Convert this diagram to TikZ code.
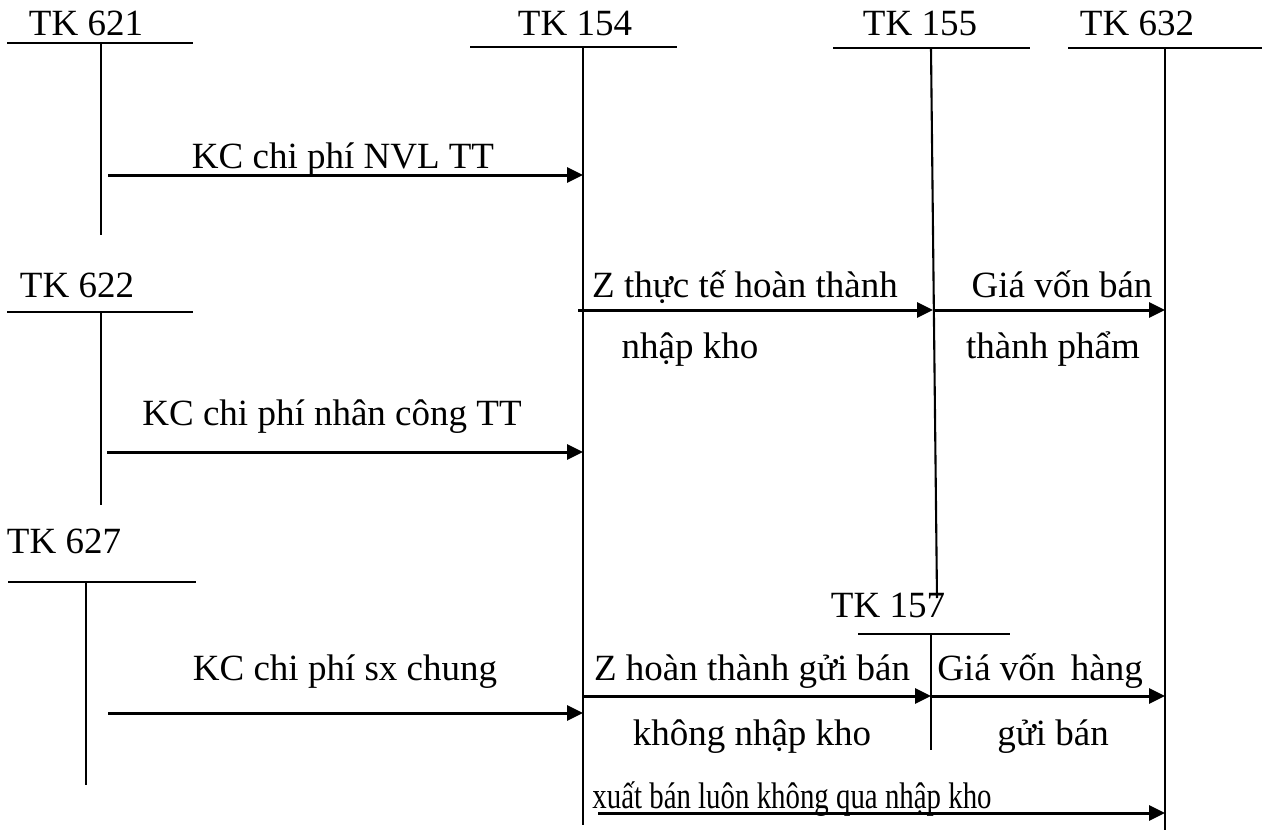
\documentclass[tikz,border=0pt]{standalone}
\usepackage{fontspec}
\setmainfont{Liberation Serif}
\usetikzlibrary{arrows.meta}
\begin{document}
\begin{tikzpicture}[x=1pt,y=-1pt,
  hline/.style={line width=2.5pt},
  vline/.style={line width=2.1pt},
  flow/.style={line width=3pt,-{Triangle[length=16pt,width=15pt]}},
  lbl/.style={font=\fontsize{37}{44}\selectfont, anchor=base, inner sep=0pt},
]
\useasboundingbox (0,0) rectangle (1267,838);

% T-accounts: title, top bar, stem
\node[lbl] (t621) at (86,35) {TK 621};
\draw[hline] (7,43) -- (193,43);
\coordinate (v621a) at (101,43); \coordinate (v621b) at (101,235);
\draw[vline] (v621a) -- (v621b);

\node[lbl] (t154) at (575,35) {TK 154};
\draw[hline] (470,47) -- (677,47);
\coordinate (v154a) at (583,47); \coordinate (v154b) at (583,825);
\draw[vline] (v154a) -- (v154b);

\node[lbl] (t155) at (920,35) {TK 155};
\draw[hline] (833,48) -- (1030,48);
\coordinate (v155a) at (931,48); \coordinate (v155b) at (937,598);
\draw[vline] (v155a) -- (v155b);

\node[lbl] (t632) at (1137,35) {TK 632};
\draw[hline] (1068,48) -- (1262,48);
\coordinate (v632a) at (1165,48); \coordinate (v632b) at (1165,830);
\draw[vline] (v632a) -- (v632b);

\node[lbl] (t622) at (77,297) {TK 622};
\draw[hline] (7,312) -- (193,312);
\coordinate (v622a) at (101,312); \coordinate (v622b) at (101,505);
\draw[vline] (v622a) -- (v622b);

\node[lbl] (t627) at (64,553) {TK 627};
\draw[hline] (8,582) -- (196,582);
\coordinate (v627a) at (86,582); \coordinate (v627b) at (86,785);
\draw[vline] (v627a) -- (v627b);

\node[lbl] (t157) at (888,617) {TK 157};
\draw[hline] (858,634) -- (1010,634);
\coordinate (v157a) at (931,634); \coordinate (v157b) at (931,750);
\draw[vline] (v157a) -- (v157b);

% Transfers into TK 154
\coordinate (f1) at (108,175);
\draw[flow] (f1) -- (f1 -| v154a);
\node[lbl] (l1) at (343,168) {KC chi phí NVL TT};

\coordinate (f2) at (107,452);
\draw[flow] (f2) -- (f2 -| v154a);
\node[lbl] (l2) at (332,425) {KC chi phí nhân công TT};

\coordinate (f3) at (108,713);
\draw[flow] (f3) -- (f3 -| v154a);
\node[lbl] (l3) at (345,680) {KC chi phí sx chung};

% Finished goods into stock, then sold
\coordinate (f4) at (578,310);
\coordinate (f4e) at (933,310);
\draw[flow] (f4) -- (f4e);
\node[lbl] (l4a) at (745,297) {Z thực tế hoàn thành};
\node[lbl] (l4b) at (690,358) {nhập kho};

\draw[flow] (f4e) -- (f4e -| v632a);
\node[lbl] (l5a) at (1062,297) {Giá vốn bán};
\node[lbl] (l5b) at (1053,358) {thành phẩm};

% Goods sent for sale
\coordinate (f6) at (583,696);
\draw[flow] (f6) -- (f6 -| v157a);
\node[lbl] (l6a) at (752,680) {Z hoàn thành gửi bán};
\node[lbl] (l6b) at (752,745) {không nhập kho};

\coordinate (f7) at (931,696);
\draw[flow] (f7) -- (f7 -| v632a);
\node[lbl] (l7a) at (1040,680) {Giá vốn\, hàng};
\node[lbl] (l7b) at (1053,745) {gửi bán};

% Sold directly
\coordinate (f8) at (598,813);
\draw[flow] (f8) -- (f8 -| v632a);
\node[lbl,xscale=0.78] (l8) at (792,808) {xuất bán luôn không qua nhập kho};
\end{tikzpicture}
\end{document}
